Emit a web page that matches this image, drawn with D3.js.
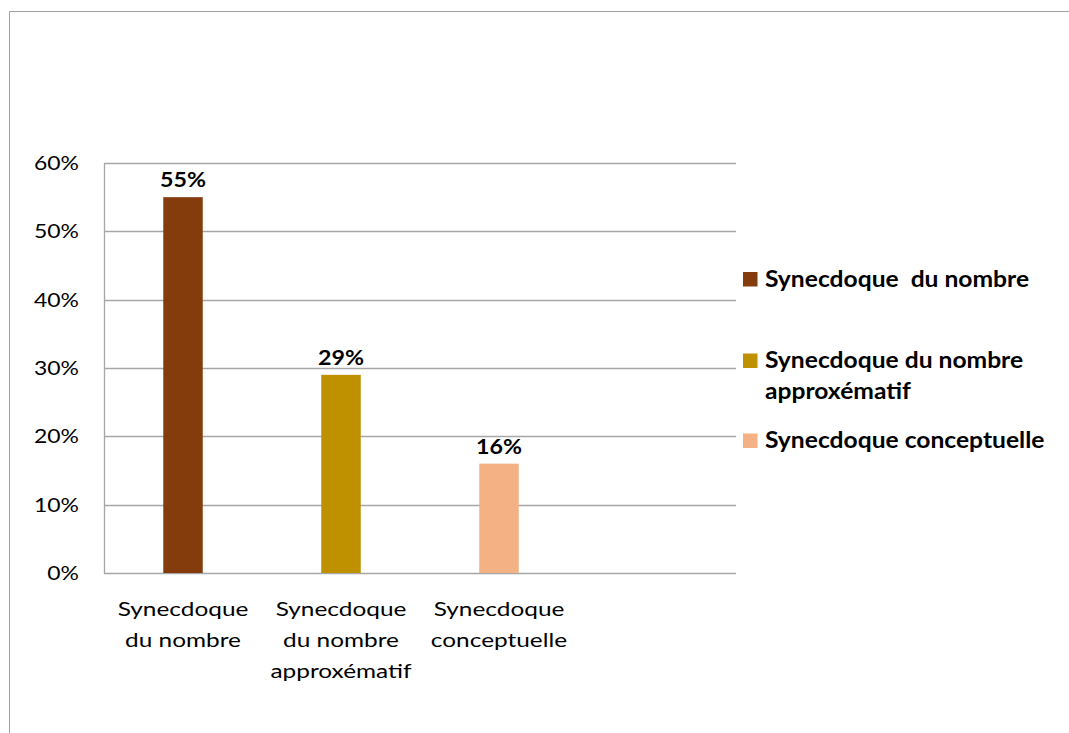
<!DOCTYPE html>
<html><head><meta charset="utf-8">
<script src="https://cdn.jsdelivr.net/npm/d3@7"></script>
<style>body{margin:0;background:#fff}svg{display:block}</style>
</head><body>
<svg id="c" width="1069" height="733"></svg>
<script>
const categories = [["Synecdoque","du nombre"],["Synecdoque","du nombre","approxématif"],["Synecdoque","conceptuelle"],[""]];
const values = [0.55, 0.29, 0.16];
const colors = ["#843C0C", "#BF9000", "#F4B183"];
const legendLabels = [["Synecdoque  du nombre"],["Synecdoque du nombre","approxématif"],["Synecdoque conceptuelle"]];
const yTicks = [0, 0.1, 0.2, 0.3, 0.4, 0.5, 0.6];

const svg = d3.select("#c");
const font = "Lato, 'Open Sans', sans-serif";
// frame
svg.append("path").attr("d","M9.5,733 V11.5 H1069").attr("fill","none").attr("stroke","#a0a0a0").attr("stroke-width",1);

const x0 = 104, x1 = 736, yTop = 163, yBot = 573;
const x = d3.scaleBand().domain(d3.range(categories.length)).range([x0, x1]).padding(0);
const y = d3.scaleLinear().domain([0, 0.6]).range([yBot, yTop]);

function txt(g, px, py, sx, t) {
  return g.append("text").attr("transform", `translate(${px},${py}) scale(${sx},1)`)
    .attr("font-family", font).attr("fill", "#000").text(t);
}

// gridlines
svg.append("g").selectAll("line").data(yTicks).join("line")
  .attr("x1", x0).attr("x2", x1).attr("y1", d => Math.round(y(d))+0.5).attr("y2", d => Math.round(y(d))+0.5)
  .attr("stroke", "#a6a6a6").attr("stroke-width", 1.3);
// y axis line
svg.append("line").attr("x1", x0+0.5).attr("x2", x0+0.5).attr("y1", yTop).attr("y2", yBot+1)
  .attr("stroke", "#a6a6a6").attr("stroke-width", 1.3);

// y tick labels
const gy = svg.append("g");
yTicks.forEach(d => {
  txt(gy, 79, y(d) + 7, 1.22, d3.format(".0%")(d)).attr("text-anchor", "end").attr("font-size", 18.8);
});

// bars
const bw = x.bandwidth() * 0.25;
svg.append("g").selectAll("rect").data(values).join("rect")
  .attr("x", (d,i) => x(i) + x.bandwidth()/2 - bw/2)
  .attr("y", d => y(d)).attr("width", bw).attr("height", d => y(0) - y(d))
  .attr("fill", (d,i) => colors[i]);

// data labels
const gl = svg.append("g");
values.forEach((d, i) => {
  txt(gl, x(i) + x.bandwidth()/2, y(d) - 10, 1.08, d3.format(".0%")(d))
    .attr("text-anchor", "middle").attr("font-weight", "bold").attr("font-size", 21.5);
});

// x labels
const gx = svg.append("g");
categories.forEach((lines, i) => {
  lines.forEach((t, j) => {
    txt(gx, x(i) + x.bandwidth()/2, 616 + j*31, 1.22, t).attr("text-anchor", "middle").attr("font-size", 20);
  });
});

// legend
const legBase = [286.5, 368, 448];
const gleg = svg.append("g");
legendLabels.forEach((lines, i) => {
  gleg.append("rect").attr("x", 743).attr("y", legBase[i]-14.5).attr("width", 14.5).attr("height", 14.5).attr("fill", colors[i]);
  lines.forEach((t, j) => {
    txt(gleg, 765, legBase[i] + j*31, 1.08, t)
      .attr("font-weight", "bold").attr("font-size", 22.8).style("white-space","pre");
  });
});
</script>
</body></html>
